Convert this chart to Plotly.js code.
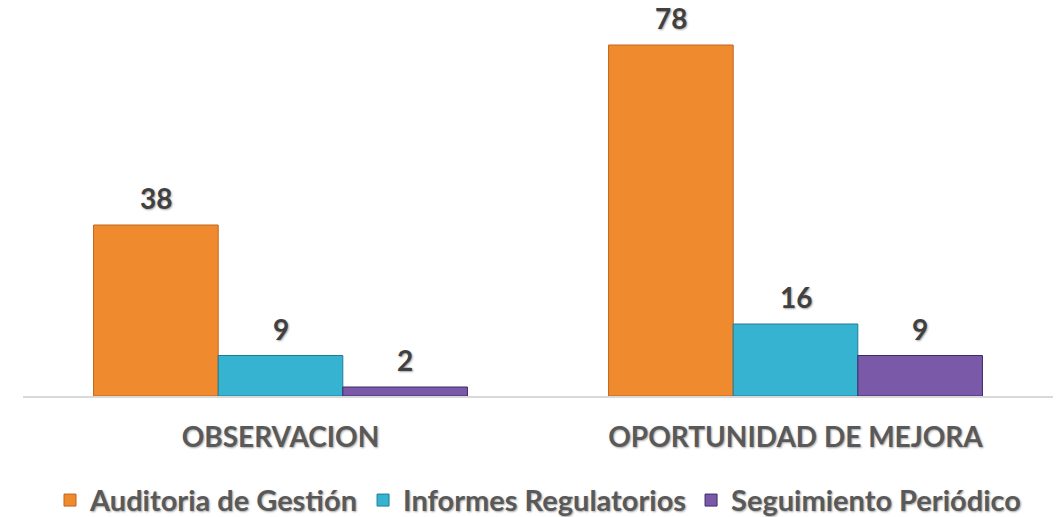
<!DOCTYPE html>
<html>
<head>
<meta charset="utf-8">
<script src="https://cdn.plot.ly/plotly-3.0.1.min.js"></script>
<style>html,body{margin:0;padding:0;background:#fff;}#chart{width:1059px;height:517px;}</style>
</head>
<body>
<div id="chart"></div>
<script>
var categories = ["OBSERVACION", "OPORTUNIDAD DE MEJORA"];
var seriesNames = ["Auditoria de Gestión", "Informes Regulatorios", "Seguimiento Periódico"];
var auditoria = [38, 78];
var informes = [9, 16];
var seguimiento = [2, 9];

var values = [auditoria, informes, seguimiento];
var fills = ["#F08A2E", "#37B3D2", "#7A5AA8"];
var edges = ["#C0661C", "#1E7C96", "#3E2A66"];
var bargap = 0.274;
var barW = (1 - bargap) / 3;
var FONT = "Lato, 'Open Sans', sans-serif";
var shadow = "1px 1px 2px rgba(0,0,0,0.35)";

var traces = values.map(function (v, i) {
  return {
    type: "bar",
    name: seriesNames[i],
    x: categories,
    y: v,
    marker: {color: fills[i], line: {color: edges[i], width: 1}},
    hoverinfo: "skip"
  };
});

var annotations = [];
values.forEach(function (v, i) {
  v.forEach(function (val, j) {
    annotations.push({
      xref: "x", yref: "y",
      x: j + (i - 1) * barW,
      y: val,
      text: String(val),
      showarrow: false,
      yanchor: "bottom",
      yshift: 9,
      borderpad: 0,
      font: {family: FONT, size: 28, color: "#404040", weight: "bold", shadow: shadow}
    });
  });
});

var layout = {
  width: 1059, height: 517,
  margin: {l: 23, r: 6, t: 10, b: 121, autoexpand: false},
  paper_bgcolor: "#ffffff",
  plot_bgcolor: "#ffffff",
  barmode: "group",
  bargap: bargap,
  bargroupgap: 0,
  showlegend: true,
  legend: {
    orientation: "h", x: 0.5, xanchor: "center", y: -0.27, yanchor: "middle",
    font: {family: FONT, size: 29, color: "#595959", weight: "bold", shadow: shadow},
    itemwidth: 30, tracegroupgap: 0
  },
  xaxis: {
    type: "category", automargin: false,
    showline: true, linecolor: "#D9D9D9", linewidth: 2,
    ticks: "", showgrid: false, zeroline: false,
    tickfont: {family: FONT, size: 28, color: "#595959", weight: "bold", shadow: shadow},
    ticklabelstandoff: 15
  },
  yaxis: {
    range: [0, 85.78], automargin: false,
    visible: false, showgrid: false, zeroline: false
  },
  annotations: annotations
};

Plotly.newPlot("chart", traces, layout, {displayModeBar: false, staticPlot: true});
</script>
</body>
</html>
